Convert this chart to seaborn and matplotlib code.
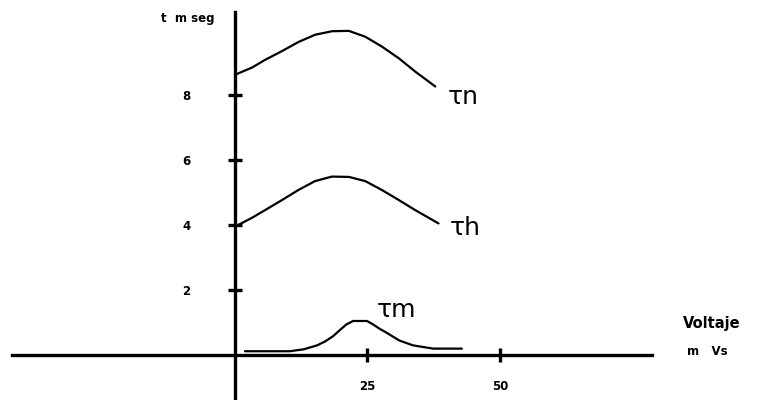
import matplotlib
matplotlib.use("Agg")
import matplotlib.pyplot as plt
import seaborn as sns
import pandas as pd

# curve values (voltage in mV, time in ms)
tau_n_v = [0.0, 3.2, 5.7, 8.9, 12.0, 15.1, 18.3, 21.5, 24.6, 27.7, 30.9, 34.0, 37.8]
tau_n_t = [8.62, 8.84, 9.08, 9.35, 9.63, 9.85, 9.96, 9.97, 9.79, 9.49, 9.13, 8.72, 8.26]
tau_h_v = [0.0, 3.2, 5.7, 8.9, 12.0, 15.1, 18.3, 21.5, 24.6, 27.7, 30.9, 34.0, 38.4]
tau_h_t = [3.95, 4.22, 4.46, 4.77, 5.08, 5.35, 5.49, 5.48, 5.35, 5.08, 4.77, 4.46, 4.05]
tau_m_v = [1.9, 6, 10.4, 13, 15.5, 17, 18.5, 19.8, 21, 22.3, 24.9, 26, 27.2, 28.7, 31, 33.6, 37.4, 42.8]
tau_m_t = [0.12, 0.12, 0.12, 0.18, 0.3, 0.42, 0.58, 0.77, 0.94, 1.05, 1.05, 0.95, 0.82, 0.68, 0.45, 0.3, 0.2, 0.2]

y_ticks = [2, 4, 6, 8]
x_ticks = [25, 50]

df = pd.concat([
    pd.DataFrame({"v": tau_n_v, "t": tau_n_t, "curva": "tau_n"}),
    pd.DataFrame({"v": tau_h_v, "t": tau_h_t, "curva": "tau_h"}),
    pd.DataFrame({"v": tau_m_v, "t": tau_m_t, "curva": "tau_m"}),
])

sns.set_style("white")
plt.rcParams['font.family'] = ['DejaVu Sans']
plt.rcParams['text.color'] = 'black'

fig = plt.figure(figsize=(7.63, 4.0), dpi=100)
ax = fig.add_axes([0, 0, 1, 1])

sns.lineplot(data=df, x="v", y="t", hue="curva", units="curva", estimator=None,
             sort=False, palette=["black"] * 3, legend=False, linewidth=1.6, ax=ax)

ax.set_xlim(-44.3, 99.6)
ax.set_ylim(-1.38, 10.92)

# axes crossing at the origin
for side in ["top", "right"]:
    ax.spines[side].set_visible(False)
ax.spines["left"].set_position(("data", 0))
ax.spines["bottom"].set_position(("data", 0))
ax.spines["left"].set_bounds(-1.38, 10.55)
ax.spines["bottom"].set_bounds(-42, 78.7)
for side in ["left", "bottom"]:
    ax.spines[side].set_linewidth(2.4)
    ax.spines[side].set_color("black")

ax.set_xticks(x_ticks)
ax.set_yticks(y_ticks)
ax.set_xticklabels([str(x) for x in x_ticks], fontsize=8.5, fontweight="bold")
ax.set_yticklabels([str(y) for y in y_ticks], fontsize=8.5, fontweight="bold")
ax.tick_params(axis="both", direction="inout", length=10, width=2.4,
               colors="black", left=True, bottom=True)
ax.tick_params(axis="x", pad=13)
ax.tick_params(axis="y", pad=27)
ax.set_xlabel("")
ax.set_ylabel("")

ax.text(-3.8, 10.35, "t  m seg", fontsize=8.5, fontweight="bold", ha="right", va="center", color="black")
ax.text(84.5, 0.98, "Voltaje", fontsize=10.5, fontweight="bold", ha="left", va="center", color="black")
ax.text(85.2, 0.12, "m   Vs", fontsize=8.5, fontweight="bold", ha="left", va="center", color="black")

ax.text(40.2, 7.95, "τn", fontsize=18, ha="left", va="center", color="black")
ax.text(40.5, 3.92, "τh", fontsize=18, ha="left", va="center", color="black")
ax.text(26.8, 1.38, "τm", fontsize=18, ha="left", va="center", color="black")

fig.savefig("out.png", dpi=100)
